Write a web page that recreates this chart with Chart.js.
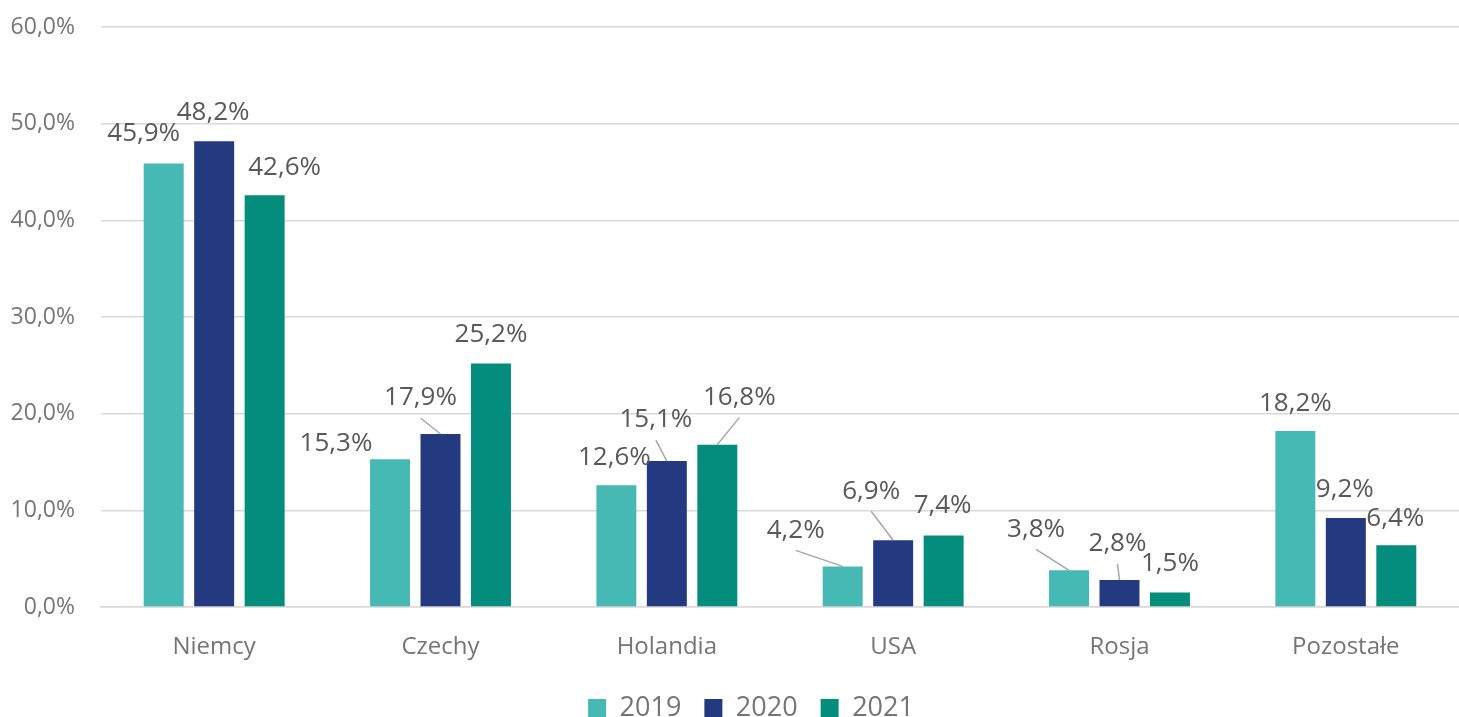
<!DOCTYPE html>
<html>
<head>
<meta charset="utf-8">
<script src="https://cdn.jsdelivr.net/npm/chart.js@4"></script>
<style>
  html, body { margin: 0; padding: 0; background: #fff; overflow: hidden; }
  #box { width: 1459px; height: 717px; }
</style>
</head>
<body>
<div id="box"><canvas id="graficoEksport"></canvas></div>
<script>
const kraje = ["Niemcy", "Czechy", "Holandia", "USA", "Rosja", "Pozostałe"];

// udział w eksporcie, %
const udzialy = {
  "2019": [45.9, 15.3, 12.6, 4.2, 3.8, 18.2],
  "2020": [48.2, 17.9, 15.1, 6.9, 2.8, 9.2],
  "2021": [42.6, 25.2, 16.8, 7.4, 1.5, 6.4]
};

// przesunięcie etykiety względem wierzchołka słupka [dx, dy, linia odniesienia]
const etykiety = {
  "2019": [[-20, -30], [-54, -16], [-2, -28], [-47, -36, true], [-33, -41, true], [0, -28]],
  "2020": [[-1, -29], [-20, -36, true], [-11, -41, true], [-22, -49, true], [-2, -36, true], [-1, -28]],
  "2021": [[20, -28], [0, -29], [22, -47, true], [-1, -30], [0, -29], [-1, -27]]
};

const kolory = { "2019": "#46B9B4", "2020": "#233A80", "2021": "#048C7C" };

const fmt = v => v.toFixed(1).replace(".", ",") + "%";

const rotulos = {
  id: "rotulos",
  afterLayout(chart) {
    // legenda w oryginale jest lekko przesunięta w prawo
    chart.legend.left += 18;
    chart.legend.right += 18;
  },
  afterDatasetsDraw(chart) {
    const ctx = chart.ctx;
    ctx.save();
    ctx.font = '26px "Open Sans"';
    ctx.textAlign = "center";
    ctx.textBaseline = "middle";
    chart.data.datasets.forEach((ds, i) => {
      chart.getDatasetMeta(i).data.forEach((bar, j) => {
        const [dx, dy, linia] = etykiety[ds.label][j];
        const x = bar.x + dx, y = bar.y + dy;
        if (linia) {
          ctx.strokeStyle = "#A6A6A6";
          ctx.lineWidth = 1.5;
          ctx.beginPath();
          ctx.moveTo(x, y + 20);
          ctx.lineTo(bar.x, bar.y);
          ctx.stroke();
        }
        ctx.fillStyle = "#595959";
        ctx.fillText(fmt(ds.data[j]), x, y);
      });
    });
    ctx.restore();
  }
};

const ctx = document.getElementById("graficoEksport").getContext("2d");

window.wykres = new Chart(ctx, {
  type: "bar",
  data: {
    labels: kraje,
    datasets: Object.keys(udzialy).map(rok => ({
      label: rok,
      data: udzialy[rok],
      backgroundColor: kolory[rok],
      borderWidth: 0,
      categoryPercentage: 0.669,
      barPercentage: 0.792
    }))
  },
  options: {
    responsive: true,
    maintainAspectRatio: false,
    animation: false,
    layout: { padding: { top: 27, right: -7, bottom: -14.5, left: 0 } },
    plugins: {
      tooltip: { enabled: false },
      legend: {
        position: "bottom",
        labels: {
          boxWidth: 18,
          boxHeight: 18,
          padding: 23,
          color: "#757575",
          font: { family: "Open Sans", size: 27 }
        }
      }
    },
    scales: {
      x: {
        afterFit: axis => { axis.height = 64.5; },
        grid: { display: false, drawTicks: false },
        border: { display: true, color: "#D9D9D9", width: 1.5 },
        ticks: {
          padding: 26,
          color: "#757575",
          font: { family: "Open Sans", size: 24 }
        }
      },
      y: {
        min: 0,
        max: 60,
        afterFit: axis => { axis.width = 101; },
        grid: { color: "#D9D9D9", lineWidth: 1.5, drawTicks: false },
        border: { display: false },
        ticks: {
          stepSize: 10,
          padding: 26,
          color: "#757575",
          font: { family: "Open Sans", size: 23, lineHeight: 0.1 },
          callback: value => fmt(value)
        }
      }
    }
  },
  plugins: [rotulos]
});
</script>
</body>
</html>
